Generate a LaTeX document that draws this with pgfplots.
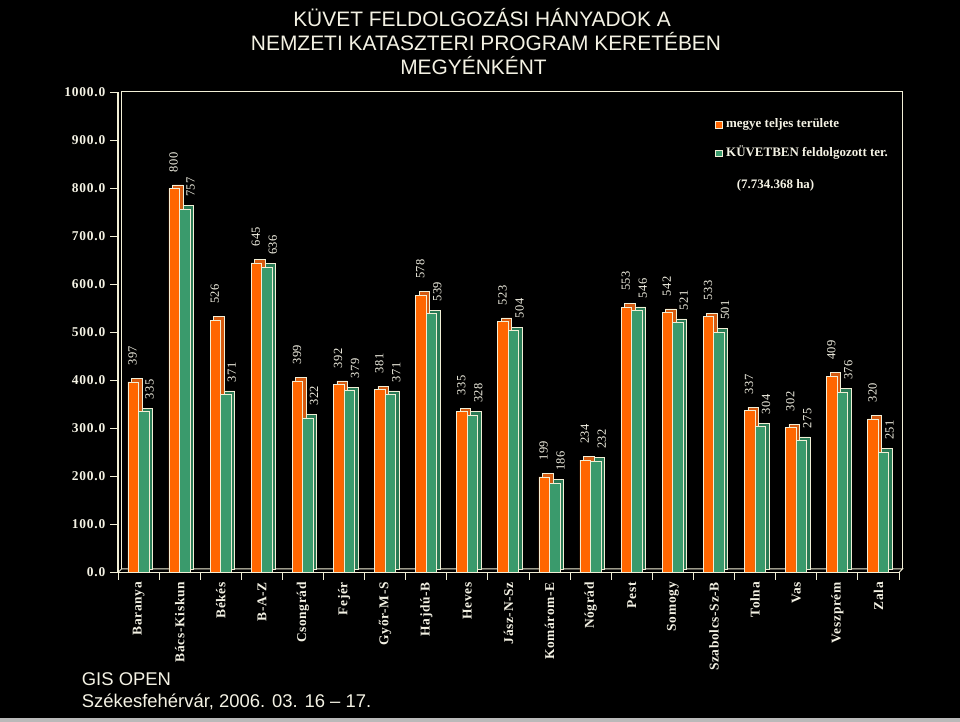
\documentclass[border=0pt]{standalone}
\usepackage{pgfplots}
\pgfplotsset{compat=1.18}
\usepackage{pgfplotstable}
\usepackage{fontspec}
\setmainfont{Liberation Sans}
\newfontfamily\tnr{Liberation Serif}
\newfontfamily\tnrsp[LetterSpace=6]{Liberation Serif}
\newfontfamily\tnrc[LetterSpace=5]{Liberation Serif}
\newfontfamily\tnrv[LetterSpace=4]{Liberation Serif}
\definecolor{cream}{HTML}{F2EFD6}
\definecolor{txt}{HTML}{F4F2E4}
\definecolor{orng}{HTML}{FF6600}
\definecolor{orngd}{HTML}{D45A10}
\definecolor{grn}{HTML}{3A9A6C}
\definecolor{grnd}{HTML}{2A7A55}

\pgfplotstableread{
i a b
0 397 335
1 800 757
2 526 371
3 645 636
4 399 322
5 392 379
6 381 371
7 578 539
8 335 328
9 523 504
10 199 186
11 234 232
12 553 546
13 542 521
14 533 501
15 337 304
16 302 275
17 409 376
18 320 251
}\data

\begin{document}
\begin{tikzpicture}
\path[use as bounding box, fill=black] (0,0) rectangle (960bp,722bp);
\fill[gray!55] (0,0) rectangle (960bp,3.5bp);
% back wall and floor
\draw[cream, line width=1bp] (118bp,149.5bp) -- (121.5bp,153bp) -- (902.5bp,153bp) -- (899bp,149.5bp);
\draw[cream, line width=1bp] (121.5bp,153bp) -- (121.5bp,630bp) -- (902.5bp,630bp) -- (902.5bp,153bp);
\begin{axis}[
  at={(118bp,149.5bp)}, anchor=south west, scale only axis,
  width=781bp, height=480bp,
  xmin=-0.5, xmax=18.5, ymin=0, ymax=1000,
  axis x line*=bottom, axis y line*=left,
  axis line style={cream, line width=1.1bp},
  clip=false,
  tick align=outside,
  xtick={0,...,18},
  xticklabels={Baranya,Bács-Kiskun,Békés,B-A-Z,Csongrád,Fejér,Győr-M-S,Hajdú-B,Heves,Jász-N-Sz,Komárom-E,Nógrád,Pest,Somogy,Szabolcs-Sz-B,Tolna,Vas,Veszprém,Zala},
  major x tick style={draw=none},
  minor xtick={-0.5,0.5,...,18.5},
  minor tick length=7.5bp,
  major tick length=8bp,
  tick style={cream, line width=1bp},
  ytick={0,100,...,1000},
  /pgf/number format/assume math mode=true,
  yticklabel={\pgfmathprintnumber[fixed,fixed zerofill,precision=1,1000 sep={}]{\tick}},
  x tick label style={rotate=90, anchor=east, inner sep=0pt, text=txt,
    font=\tnrc\bfseries\fontsize{13.5}{15}\selectfont},
  y tick label style={anchor=east, inner sep=0pt, text=txt,
    font=\tnrsp\bfseries\fontsize{13.5}{15}\selectfont},
  xticklabel shift=1.5bp,
  yticklabel shift=4.5bp,
]
\addplot[ybar, bar width=10.5bp, bar shift=-2bp, yshift=3.5bp, fill=orngd, draw=cream, line width=0.6bp]
  table[x=i,y=a]{\data};
\addplot[ybar, bar width=10.5bp, bar shift=-5.5bp, fill=orng, draw=cream, line width=0.6bp,
  nodes near coords,
  nodes near coords style={xshift=-6bp, yshift=16bp, rotate=90, anchor=west, inner sep=0pt, text=txt,
    font=\tnrv\fontsize{12.5}{14}\selectfont}]
  table[x=i,y=a]{\data};
\addplot[ybar, bar width=10.5bp, bar shift=8.5bp, yshift=3.5bp, fill=grnd, draw=cream, line width=0.6bp]
  table[x=i,y=b]{\data};
\addplot[ybar, bar width=10.5bp, bar shift=5bp, fill=grn, draw=cream, line width=0.6bp,
  nodes near coords,
  nodes near coords style={xshift=11bp, yshift=12bp, rotate=90, anchor=west, inner sep=0pt, text=txt,
    font=\tnrv\fontsize{12.5}{14}\selectfont}]
  table[x=i,y=b]{\data};
\end{axis}
% legend
\filldraw[fill=orng, draw=cream, line width=0.6bp] (715bp,594bp) rectangle (722bp,600.5bp);
\node[anchor=base west, inner sep=0pt, text=txt, font=\tnr\bfseries\fontsize{13}{15}\selectfont] at (726bp,594bp) {megye teljes területe};
\filldraw[fill=grn, draw=cream, line width=0.6bp] (715bp,565.3bp) rectangle (722bp,572bp);
\node[anchor=base west, inner sep=0pt, text=txt, font=\tnr\bfseries\fontsize{13}{15}\selectfont] at (726bp,565.3bp) {KÜVETBEN feldolgozott ter.};
\node[anchor=base west, inner sep=0pt, text=txt, font=\tnr\bfseries\fontsize{13}{15}\selectfont] at (736.7bp,533bp) {(7.734.368 ha)};
% title
\begin{scope}[every node/.style={anchor=base, inner sep=0pt, text=txt, font=\fontsize{21}{22}\selectfont}]
\node at (482bp,695bp) {KÜVET FELDOLGOZÁSI HÁNYADOK A};
\node at (486bp,671bp) {NEMZETI KATASZTERI PROGRAM KERETÉBEN};
\node at (473.5bp,647.5bp) {MEGYÉNKÉNT};
\end{scope}
% footer
\begin{scope}[every node/.style={anchor=base west, inner sep=0pt, text=txt, font=\fontsize{18.5}{20}\selectfont}]
\node at (81.7bp,37bp) {GIS OPEN};
\node at (81.7bp,14.3bp) {Székesfehérvár, 2006. 03. 16 -- 17.};
\end{scope}
\end{tikzpicture}
\end{document}
